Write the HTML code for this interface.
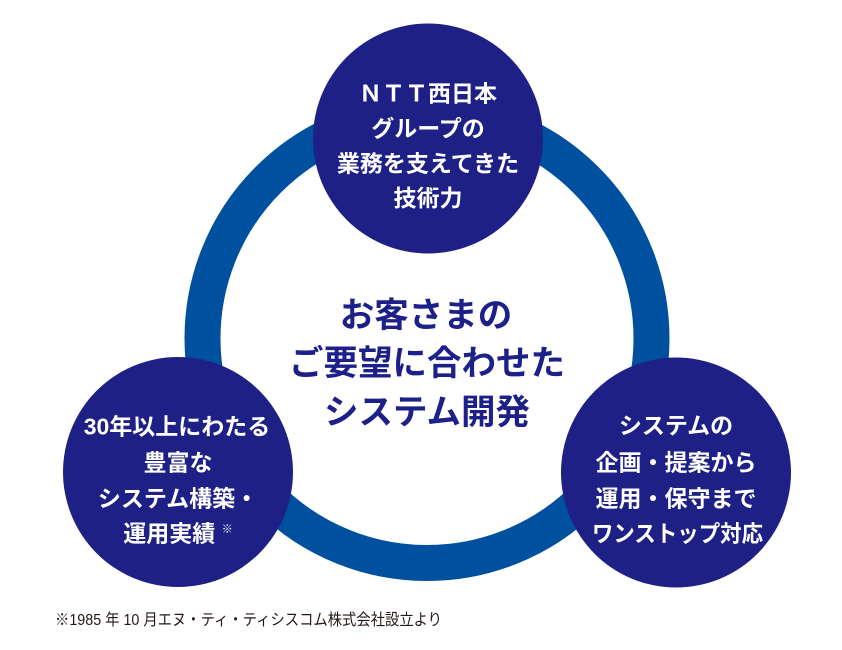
<!DOCTYPE html>
<html>
<head>
<meta charset="utf-8">
<style>
  html,body{margin:0;padding:0;background:#fff;}
  body{width:842px;height:650px;overflow:hidden;}
  svg{display:block;}
  .w{fill:#fff;font-family:"Liberation Sans","Noto Sans CJK JP",sans-serif;font-weight:700;font-size:23px;}
  .c{fill:#1d2088;font-family:"Liberation Sans","Noto Sans CJK JP",sans-serif;font-weight:700;font-size:34.5px;}
  .f{fill:#231815;font-family:"Liberation Sans","Noto Sans CJK JP",sans-serif;font-weight:400;font-size:16px;}
</style>
</head>
<body>
<svg width="842" height="650" viewBox="0 0 842 650" xmlns="http://www.w3.org/2000/svg">
  <rect x="0" y="0" width="842" height="650" fill="#ffffff"/>
  <!-- ring -->
  <circle cx="427" cy="338.5" r="224.5" fill="none" stroke="#0050a0" stroke-width="36"/>
  <!-- circles -->
  <circle cx="428" cy="138.5" r="115" fill="#1e2086"/>
  <circle cx="178" cy="472" r="115" fill="#1e2086"/>
  <circle cx="676" cy="472.5" r="115" fill="#1e2086"/>

  <!-- top circle text -->
  <text class="w" text-anchor="middle" x="428" y="101.5">ＮＴＴ西日本</text>
  <text class="w" text-anchor="middle" x="428" y="136.5">グループの</text>
  <text class="w" text-anchor="middle" x="428" y="171.5">業務を支えてきた</text>
  <text class="w" text-anchor="middle" x="428" y="206">技術力</text>

  <!-- center text -->
  <text class="c" text-anchor="middle" x="426" y="327">お客さまの</text>
  <text class="c" text-anchor="middle" x="427" y="375">ご要望に合わせた</text>
  <text class="c" text-anchor="middle" x="427" y="424">システム開発</text>

  <!-- bottom-left text -->
  <text class="w" text-anchor="middle" x="177" y="434.5">30年以上にわたる</text>
  <text class="w" text-anchor="middle" x="178" y="470.5">豊富な</text>
  <text class="w" text-anchor="middle" x="178" y="506.5">システム構築・</text>
  <text class="w" text-anchor="middle" x="178" y="541.5">運用実績 <tspan font-size="11" font-weight="400" dy="-9">※</tspan></text>

  <!-- bottom-right text -->
  <text class="w" text-anchor="middle" x="676" y="433.5">システムの</text>
  <text class="w" text-anchor="middle" x="676" y="470.5">企画・提案から</text>
  <text class="w" text-anchor="middle" x="676" y="506.5">運用・保守まで</text>
  <text class="w" x="592" y="541.5" textLength="171" lengthAdjust="spacingAndGlyphs">ワンストップ対応</text>

  <!-- footnote -->
  <text class="f" x="55" y="625" textLength="387" lengthAdjust="spacingAndGlyphs">※1985 年 10 月エヌ・ティ・ティシスコム株式会社設立より</text>
</svg>
</body>
</html>
